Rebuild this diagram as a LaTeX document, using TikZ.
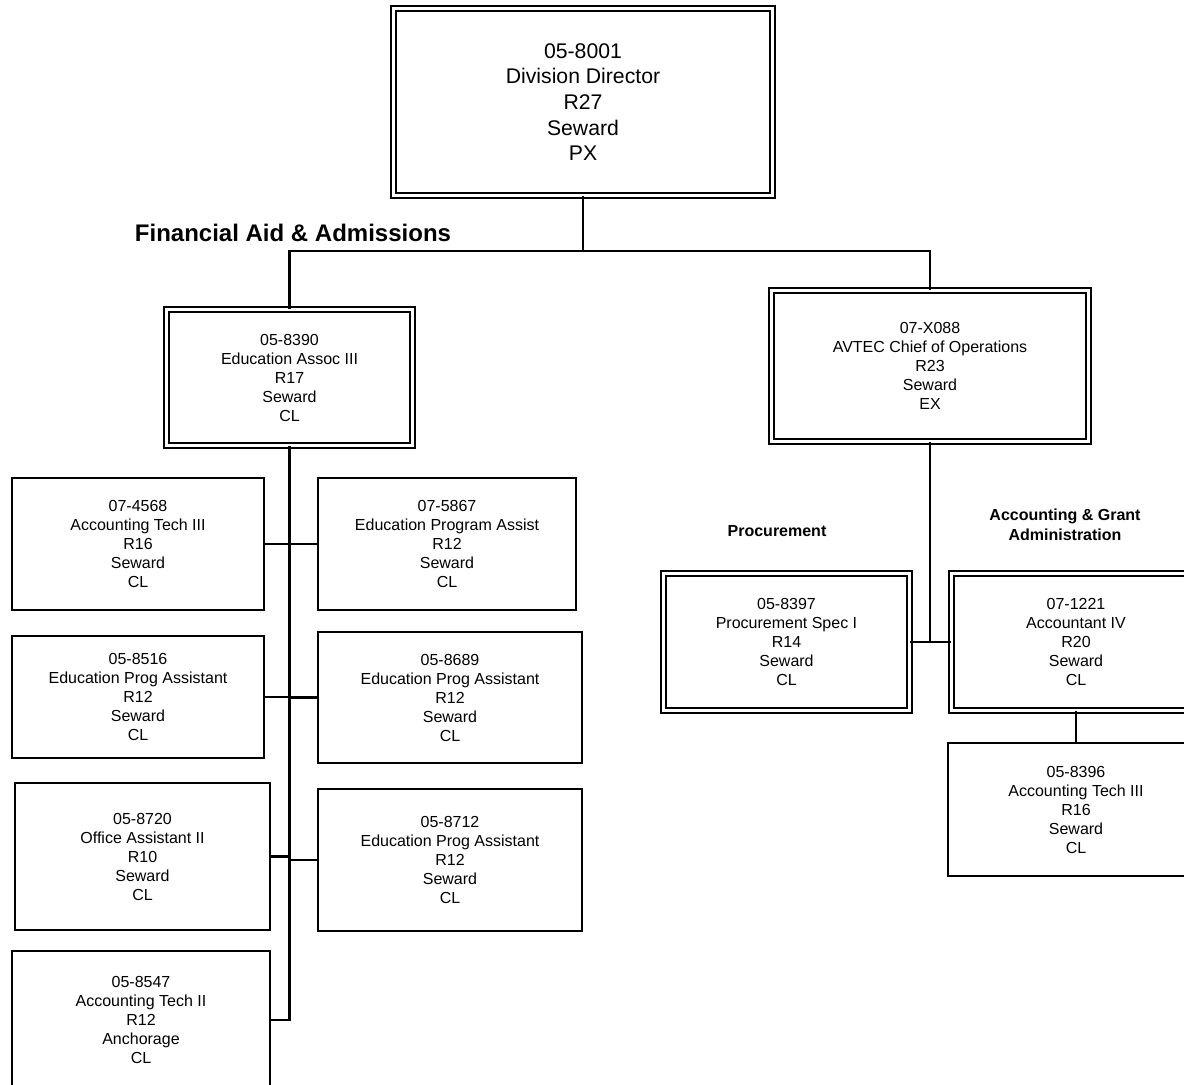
\documentclass[tikz,border=0pt]{standalone}
\usepackage{fontspec}
\setmainfont{Liberation Sans}

\begin{document}
\begin{tikzpicture}[x=0.5pt,y=-0.5pt,
    box/.style={draw,line width=0.8pt,align=center,inner sep=0pt,
      font=\fontsize{8}{9.5}\selectfont},
    dbox/.style={box,line width=0.95pt,double,double distance=1.5pt},
    conn/.style={line width=1.1pt},
    lbl/.style={font=\bfseries\fontsize{8}{10}\selectfont,align=center}]
    \useasboundingbox (0,0) rectangle (1184,1084);
    \clip (0,0) rectangle (1184,1084);
    % top
    \node[dbox,minimum width=189.5pt,minimum height=93.5pt,
      font=\fontsize{10.6}{12.85}\selectfont] (dir) at (583,102)
      {05-8001\\Division Director\\R27\\Seward\\PX};
    \node[lbl,font=\bfseries\fontsize{12}{14}\selectfont] (fa) at (293,233) {Financial Aid \& Admissions};
    \node[dbox,minimum width=123pt,minimum height=68pt] (ea) at (289.5,377.5)
      {05-8390\\Education Assoc III\\R17\\Seward\\CL};
    \node[dbox,minimum width=158.5pt,minimum height=75.5pt] (avtec) at (930,366)
      {07-X088\\AVTEC Chief of Operations\\R23\\Seward\\EX};
    % left group
    \node[box,minimum width=126pt,minimum height=66pt] (p4568) at (138,544)
      {07-4568\\Accounting Tech III\\R16\\Seward\\CL};
    \node[box,minimum width=129pt,minimum height=66pt] (p5867) at (447,544)
      {07-5867\\Education Program Assist\\R12\\Seward\\CL};
    \node[box,minimum width=126pt,minimum height=61pt] (p8516) at (138,697)
      {05-8516\\Education Prog Assistant\\R12\\Seward\\CL};
    \node[box,minimum width=132pt,minimum height=65.5pt] (p8689) at (450,697.5)
      {05-8689\\Education Prog Assistant\\R12\\Seward\\CL};
    \node[box,minimum width=127.5pt,minimum height=73.5pt] (p8720) at (142.5,856.5)
      {05-8720\\Office Assistant II\\R10\\Seward\\CL};
    \node[box,minimum width=132pt,minimum height=71pt] (p8712) at (450,860)
      {05-8712\\Education Prog Assistant\\R12\\Seward\\CL};
    \node[box,minimum width=129pt,minimum height=69pt] (p8547) at (141,1020)
      {05-8547\\Accounting Tech II\\R12\\Anchorage\\CL};
    % right group
    \node[lbl] (proclbl) at (777,531) {Procurement};
    \node[lbl] (acclbl) at (1065,525) {Accounting \& Grant\\Administration};
    \node[dbox,minimum width=123pt,minimum height=68.5pt] (p8397) at (786.5,642)
      {05-8397\\Procurement Spec I\\R14\\Seward\\CL};
    \node[dbox,minimum width=124.5pt,minimum height=68.5pt] (p1221) at (1076,642)
      {07-1221\\Accountant IV\\R20\\Seward\\CL};
    \node[box,minimum width=128pt,minimum height=66.5pt] (p8396) at (1076,809.5)
      {05-8396\\Accounting Tech III\\R16\\Seward\\CL};
    % lines
    \coordinate (j1) at (583,251);
    \draw[conn] (dir.south) -- (j1);
    \draw[conn] (ea.north) |- (j1) -| (avtec.north);
    \draw[conn] (ea.south) -- (ea.south |- p8547.east) -- (p8547.east);
    \draw[conn] (p4568.east) -- (p5867.west);
    \draw[conn] (p8516.east) -- (ea.south |- p8516.east);
    \draw[conn] (p8689.west) -- (ea.south |- p8689.west);
    \draw[conn] (p8720.east) -- (ea.south |- p8720.east);
    \draw[conn] (p8712.west) -- (ea.south |- p8712.west);
    \draw[conn] (avtec.south) |- (p8397.east);
    \draw[conn] (avtec.south) |- (p1221.west);
    \draw[conn] (p1221.south) -- (p8396.north);
\end{tikzpicture}
\end{document}
